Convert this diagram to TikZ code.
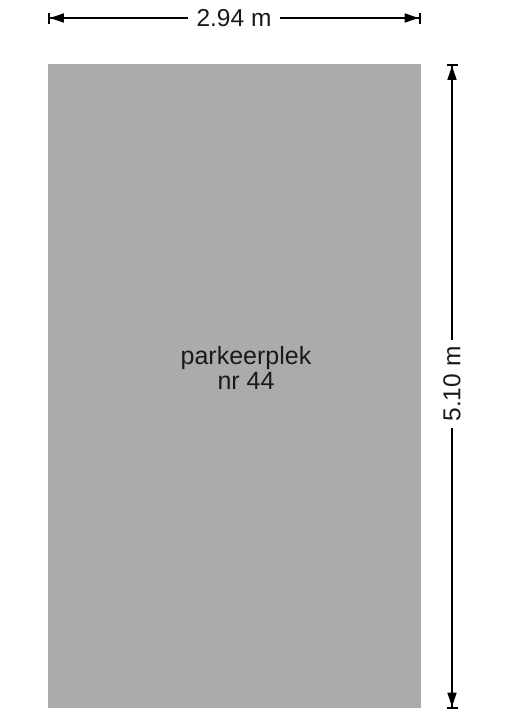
\documentclass[tikz,border=0pt]{standalone}
\usepackage{fontspec}
\setmainfont{Liberation Sans}
\usetikzlibrary{arrows.meta}
\definecolor{plotgray}{HTML}{ABABAB}
\begin{document}
\begin{tikzpicture}[x=1pt,y=-1pt,
  dimline/.style={line width=1.4pt,draw=black},
  endtip/.style={-{Triangle[length=14pt,width=9pt]Bar[width=11pt,line width=1.8pt,sep=0pt]}},
  dimlabel/.style={font=\fontsize{24.5}{25}\selectfont,inner sep=0pt,text=black!90},
  namelabel/.style={font=\fontsize{25}{25}\selectfont,inner sep=0pt,text=black!90},
  plot/.style={fill=plotgray,draw=none}]
\useasboundingbox (0,0) rectangle (509,720);
% parking space
\fill[plot] (48,63.5) rectangle (420.5,708);
\node[namelabel,align=center] (name) at (246,368) {parkeerplek\\nr 44};
% top dimension
\coordinate (tl) at (48,18);
\coordinate (tr) at (420.5,18);
\node[dimlabel,inner xsep=8.5pt] (wlabel) at (234,18) {2.94 m};
\draw[dimline,endtip] (wlabel.west) -- (tl);
\draw[dimline,endtip] (wlabel.east) -- (tr);
% right dimension
\coordinate (rt) at (452,64);
\coordinate (rb) at (452,708.5);
\node[dimlabel,rotate=90,inner xsep=6pt] (hlabel) at (452,384) {5.10 m};
\draw[dimline,endtip] (hlabel.east) -- (rt);
\draw[dimline,endtip] (hlabel.west) -- (rb);
\end{tikzpicture}
\end{document}
